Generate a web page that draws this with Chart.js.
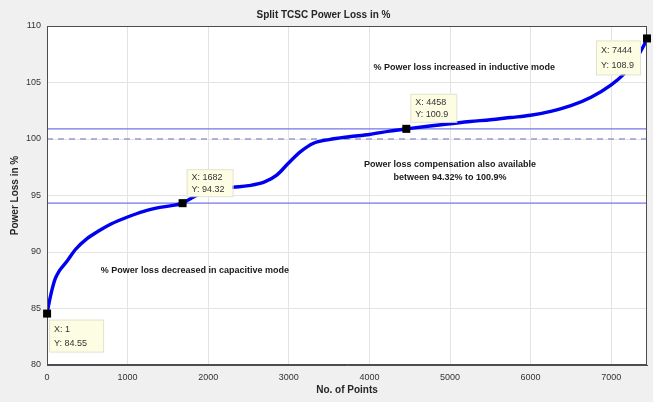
<!DOCTYPE html>
<html>
<head>
<meta charset="utf-8">
<script src="https://cdn.jsdelivr.net/npm/chart.js@4/dist/chart.umd.min.js"></script>
<style>
  html, body { margin: 0; padding: 0; background: #f0f0f0; }
  #wrap { width: 653px; height: 402px; }
</style>
</head>
<body>
<div id="wrap"><canvas id="lossChart"></canvas></div>
<script>
// values
var pointNo = [1, 20, 60, 100, 150, 250, 350, 500, 650, 800, 1000, 1200, 1400, 1682,
  1800, 2000, 2300, 2500, 2700, 2850, 3000, 3150, 3300, 3500, 3750, 4000, 4250, 4458,
  4750, 5000, 5250, 5500, 5750, 6000, 6250, 6500, 6750, 7000, 7150, 7300, 7400, 7444];
var lossPct = [84.55, 85.3, 86.6, 87.6, 88.3, 89.2, 90.2, 91.2, 91.9, 92.5, 93.1, 93.6, 93.95, 94.32,
  94.8, 95.4, 95.72, 95.87, 96.2, 96.8, 97.9, 98.9, 99.6, 99.95, 100.2, 100.4, 100.7, 100.9,
  101.15, 101.35, 101.55, 101.7, 101.9, 102.1, 102.45, 102.95, 103.7, 104.8, 105.7, 107.0, 108.2, 108.9];

var tipX = [1, 1682, 4458, 7444];
var tipY = [84.55, 94.32, 100.9, 108.9];
var tipLabelX = ['X: 1', 'X: 1682', 'X: 4458', 'X: 7444'];
var tipLabelY = ['Y: 84.55', 'Y: 94.32', 'Y: 100.9', 'Y: 108.9'];

var upperBand = 100.9;
var lowerBand = 94.32;
var refLevel = 100;
var xRange = [0, 7444];

var xTicks = [0, 1000, 2000, 3000, 4000, 5000, 6000, 7000];
var yTicks = [80, 85, 90, 95, 100, 105, 110];

var notes = [
  { x: 5177, y: 106.35, text: '% Power loss increased in inductive mode' },
  { x: 5000, y: 97.7, text: 'Power loss compensation also available' },
  { x: 5000, y: 96.55, text: 'between 94.32% to 100.9%' },
  { x: 1835, y: 88.35, text: '% Power loss decreased in capacitive mode' }
];

// datatip box offsets from the marker (pixels)
var tipBox = [
  { dx: 2, dy: 6, w: 54, h: 32 },
  { dx: 4, dy: -34, w: 46, h: 27 },
  { dx: 4, dy: -35, w: 46, h: 28 },
  { dx: -51, dy: 2, w: 44, h: 34 }
];

function toPoints(xs, ys) {
  return xs.map(function(x, i) { return { x: x, y: ys[i] }; });
}
function flatLine(v) {
  return [{ x: xRange[0], y: v }, { x: xRange[1], y: v }];
}

var fontFam = '"Liberation Sans", Arial, Helvetica, sans-serif';
var axisColor = '#4d4d4d';

new Chart(document.getElementById('lossChart'), {
  type: 'scatter',
  data: {
    datasets: [
      {
        label: 'tips',
        data: toPoints(tipX, tipY),
        pointStyle: 'rect',
        pointRadius: 4,
        backgroundColor: '#000',
        borderColor: '#000',
        showLine: false,
        order: 0
      },
      {
        label: 'loss',
        data: toPoints(pointNo, lossPct),
        borderColor: '#0000f0',
        borderWidth: 3.4,
        pointRadius: 0,
        showLine: true,
        cubicInterpolationMode: 'monotone',
        order: 1
      },
      {
        label: 'upper',
        data: flatLine(upperBand),
        borderColor: '#7474ea',
        borderWidth: 1.2,
        pointRadius: 0,
        showLine: true,
        order: 3
      },
      {
        label: 'lower',
        data: flatLine(lowerBand),
        borderColor: '#7474ea',
        borderWidth: 1.2,
        pointRadius: 0,
        showLine: true,
        order: 3
      },
      {
        label: 'ref',
        data: flatLine(refLevel),
        borderColor: '#9c9cd0',
        borderWidth: 1.5,
        borderDash: [6, 5],
        pointRadius: 0,
        showLine: true,
        order: 3
      }
    ]
  },
  options: {
    responsive: true,
    maintainAspectRatio: false,
    animation: false,
    layout: { padding: { top: 0, right: 6, bottom: 0, left: 0 } },
    plugins: {
      legend: { display: false },
      tooltip: { enabled: false },
      title: {
        display: true,
        text: 'Split TCSC Power Loss in %',
        color: '#262626',
        font: { size: 10, weight: 'bold', family: fontFam },
        padding: { top: 9, bottom: 5 }
      }
    },
    scales: {
      x: {
        type: 'linear',
        min: xRange[0],
        max: xRange[1],
        afterBuildTicks: function(axis) {
          axis.ticks = xTicks.map(function(v) { return { value: v }; });
        },
        afterFit: function(scale) { scale.height = 37; },
        grid: { color: '#e3e3e3', drawTicks: false },
        border: { color: axisColor },
        ticks: {
          padding: 7,
          color: '#333',
          font: { size: 9, family: fontFam },
          maxRotation: 0,
          callback: function(v) { return String(v); }
        },
        title: {
          display: true,
          text: 'No. of Points',
          color: '#262626',
          font: { size: 10, weight: 'bold', family: fontFam },
          padding: { top: 0, bottom: 6 }
        }
      },
      y: {
        type: 'linear',
        min: 80,
        max: 110,
        afterBuildTicks: function(axis) {
          axis.ticks = yTicks.map(function(v) { return { value: v }; });
        },
        afterFit: function(scale) { scale.width = 47; },
        grid: { color: '#e3e3e3', drawTicks: false },
        border: { color: axisColor },
        ticks: {
          padding: 6,
          color: '#333',
          font: { size: 9, family: fontFam },
          callback: function(v) { return String(v); }
        },
        title: {
          display: true,
          text: 'Power Loss in %',
          color: '#262626',
          font: { size: 10, weight: 'bold', family: fontFam },
          padding: { top: 9, bottom: 0 }
        }
      }
    }
  },
  plugins: [{
    id: 'matlabLook',
    beforeDraw: function(chart) {
      var c = chart.ctx, a = chart.chartArea;
      c.save();
      c.fillStyle = '#f0f0f0';
      c.fillRect(0, 0, chart.width, chart.height);
      c.fillStyle = '#ffffff';
      c.fillRect(a.left, a.top, a.right - a.left, a.bottom - a.top);
      c.restore();
    },
    afterDraw: function(chart) {
      var c = chart.ctx, a = chart.chartArea;
      var xs = chart.scales.x, ys = chart.scales.y;
      c.save();
      // axes box
      c.strokeStyle = axisColor;
      c.lineWidth = 1;
      c.strokeRect(a.left + 0.5, a.top + 0.5, a.right - a.left - 1, a.bottom - a.top - 1);

      // text notes
      c.fillStyle = '#1a1a1a';
      c.font = 'bold 9px ' + fontFam;
      c.textAlign = 'center';
      c.textBaseline = 'middle';
      notes.forEach(function(n) {
        c.fillText(n.text, xs.getPixelForValue(n.x), ys.getPixelForValue(n.y));
      });

      // datatips
      c.font = '9px ' + fontFam;
      c.textAlign = 'left';
      tipX.forEach(function(x, i) {
        var px = xs.getPixelForValue(x), py = ys.getPixelForValue(tipY[i]);
        var b = tipBox[i];
        var bx = px + b.dx, by = py + b.dy;
        c.fillStyle = '#fdfde4';
        c.fillRect(bx, by, b.w, b.h);
        c.strokeStyle = '#e2e2d0';
        c.strokeRect(bx + 0.5, by + 0.5, b.w, b.h);
        c.fillStyle = '#333';
        c.fillText(tipLabelX[i], bx + 5, by + b.h * 0.3);
        c.fillText(tipLabelY[i], bx + 5, by + b.h * 0.75);
      });

      // markers back on top of the tip boxes
      c.fillStyle = '#000';
      tipX.forEach(function(x, i) {
        var px = xs.getPixelForValue(x), py = ys.getPixelForValue(tipY[i]);
        c.fillRect(px - 4, py - 4, 8, 8);
      });
      c.restore();
    }
  }]
});
</script>
</body>
</html>
